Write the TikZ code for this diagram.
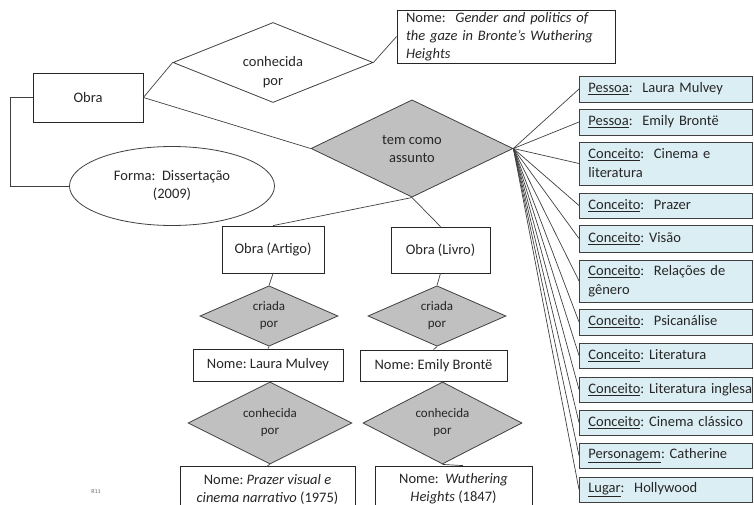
\documentclass[tikz,border=0pt]{standalone}
\usepackage{fontspec}
\setmainfont{Carlito}
\usetikzlibrary{shapes.geometric}
\definecolor{ink}{RGB}{38,38,38}
\definecolor{edgegray}{RGB}{64,64,64}
\definecolor{relfill}{RGB}{192,192,192}
\definecolor{topicfill}{RGB}{219,238,244}

\begin{document}
\frenchspacing
\begin{tikzpicture}[x=1pt,y=-1pt,
  font=\fontsize{14.5}{18}\selectfont, text=ink,
  entity/.style={rectangle, draw=ink, fill=white, line width=0.8pt, inner sep=0pt, align=center},
  relation/.style={diamond, draw=edgegray, fill=relfill, line width=0.8pt, inner sep=0pt, align=center},
  smallrel/.style={relation, font=\fontsize{13}{17}\selectfont},
  attribute/.style={ellipse, draw=edgegray, fill=white, line width=0.8pt, inner sep=0pt, align=center},
  topic/.style={rectangle, draw=edgegray, fill=topicfill, line width=0.8pt, anchor=west,
    font=\fontsize{14.5}{19}\selectfont, text width=155pt, inner xsep=9pt, inner ysep=0pt, align=left},
  link/.style={draw=edgegray, line width=0.7pt}]

\useasboundingbox (0,0) rectangle (754,505);

% --- main work and its relations ---
\node[entity, minimum width=110pt, minimum height=49pt] (obra) at (88,97.5) {Obra};

\node[diamond, draw=edgegray, fill=white, line width=0.8pt, inner sep=0pt,
      minimum width=200pt, minimum height=80pt,
      label={[align=center, yshift=-10pt, font=\fontsize{14.5}{19}\selectfont]center:conhecida\\por}]
      (knownTop) at (273,62.5) {};

\node[entity, minimum width=218pt, minimum height=53pt, text width=200pt, align=left]
      (title) at (506,36.5)
      {Nome:~ \textit{Gender and politics of}\\\textit{the gaze in Bronte’s Wuthering}\\\textit{Heights}};

\node[relation, minimum width=202pt, minimum height=79pt,
      font=\fontsize{14.5}{18}\selectfont] (subject) at (412,148.5)
      {\raisebox{-3pt}{\parbox{70pt}{\centering tem como\\assunto}}};

\node[attribute, minimum width=205pt, minimum height=79pt] (form) at (172,186)
      {Forma:~ Dissertação\\(2009)};

% --- article branch ---
\node[entity, minimum width=102pt, minimum height=47pt] (artigo) at (273,249.5) {Obra (Artigo)};
\node[smallrel, minimum width=138pt, minimum height=38pt] (madeA) at (269,316) {criada\\por};
\node[entity, minimum width=150pt, minimum height=32pt] (mulvey) at (268,365) {Nome: Laura Mulvey};
\node[smallrel, minimum width=164pt, minimum height=46pt] (knownA) at (270,423) {conhecida\\por};
\node[entity, minimum width=175pt, minimum height=46pt] (prazer) at (267.5,489)
      {Nome: \textit{Prazer visual e}\\\textit{cinema narrativo} (1975)};

% --- book branch ---
\node[entity, minimum width=99pt, minimum height=46pt] (livro) at (440.5,250) {Obra (Livro)};
\node[smallrel, minimum width=138pt, minimum height=38pt] (madeB) at (437,316) {criada\\por};
\node[entity, minimum width=147pt, minimum height=31pt] (bronte) at (433.5,365.5) {Nome: Emily Brontë};
\node[smallrel, minimum width=159pt, minimum height=46pt] (knownB) at (442.5,423) {conhecida\\por};
\node[entity, minimum width=157pt, minimum height=46pt] (wuthering) at (453.5,489)
      {Nome:~ \textit{Wuthering}\\\textit{Heights} (1847)};

% --- subjects ---
\node[topic, minimum height=26pt] (t1)  at (579,89)    {\underline{Pessoa}:~ Laura Mulvey};
\node[topic, minimum height=26pt] (t2)  at (579,122)   {\underline{Pessoa}:~ Emily Brontë};
\node[topic, minimum height=43pt] (t3)  at (579,163.5) {\underline{Conceito}:~ Cinema e\\literatura};
\node[topic, minimum height=25pt] (t4)  at (579,205.5) {\underline{Conceito}:~ Prazer};
\node[topic, minimum height=27pt] (t5)  at (579,238.5) {\underline{Conceito}: Visão};
\node[topic, minimum height=42pt] (t6)  at (579,281)   {\underline{Conceito}:~ Relações de\\gênero};
\node[topic, minimum height=26pt] (t7)  at (579,322)   {\underline{Conceito}:~ Psicanálise};
\node[topic, minimum height=25pt] (t8)  at (579,355.5) {\underline{Conceito}: Literatura};
\node[topic, minimum height=25pt] (t9)  at (579,389.5) {\mbox{\underline{Conceito}: Literatura inglesa}};
\node[topic, minimum height=25pt] (t10) at (579,422.5) {\underline{Conceito}: Cinema clássico};
\node[topic, minimum height=25pt] (t11) at (579,455.5) {\underline{Personagem}: Catherine};
\node[topic, minimum height=25pt] (t12) at (579,489.5) {\underline{Lugar}:~ Hollywood};

\node[font=\fontsize{6}{7}\selectfont, text=black!60] (code) at (96,492) {R11};

% --- connectors ---
\draw[link] (obra.east) -- (knownTop.west);
\draw[link] (knownTop.east) -- (title.west);
\draw[link] (obra.east) -- (subject.west);
\draw[link] (obra.west) -- ++(-22,0) |- (form.west);
\draw[link] (subject.south) -- (artigo.north);
\draw[link] (subject.south) -- (livro.north);
\draw[link] (artigo.south) -- (madeA.north);
\draw[link] (madeA.south) -- (mulvey.north);
\draw[link] (mulvey.south) -- (knownA.north);
\draw[link] (knownA.south) -- (prazer.north);
\draw[link] (livro.south) -- (madeB.north);
\draw[link] (madeB.south) -- (bronte.north);
\draw[link] (bronte.south) -- (knownB.north);
\draw[link] (knownB.south) -- (wuthering.north -| 463,0);
\foreach \i in {1,...,12} {
  \draw[link] (subject.east) -- (t\i.west);
}
\end{tikzpicture}
\end{document}
